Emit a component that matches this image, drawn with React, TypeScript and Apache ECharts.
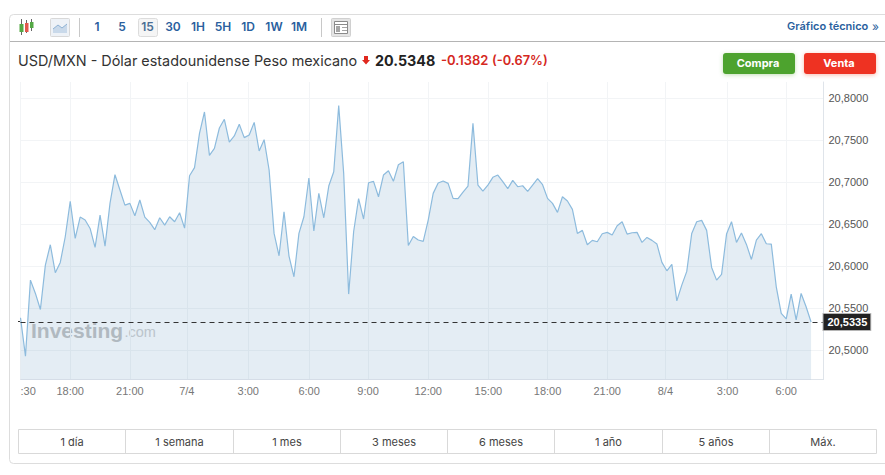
import React, { useEffect, useRef } from "react";
import * as echarts from "echarts";

const prices = [
  20.5385, 20.4929, 20.5833, 20.5675, 20.5484, 20.6012, 20.6254, 20.5921, 20.6044, 20.6349,
  20.677, 20.6329, 20.6583, 20.6548, 20.6448, 20.6222, 20.6607, 20.6238, 20.6746, 20.7087,
  20.6905, 20.6726, 20.6746, 20.6599, 20.6786, 20.6583, 20.652, 20.6433, 20.6575, 20.6488,
  20.6587, 20.6528, 20.6635, 20.6452, 20.7075, 20.7171, 20.7579, 20.7833, 20.7317, 20.7401,
  20.7643, 20.7746, 20.7476, 20.7548, 20.7687, 20.7528, 20.756, 20.771, 20.7369, 20.7504,
  20.7143, 20.6389, 20.6123, 20.6647, 20.6119, 20.5873, 20.6389, 20.6587, 20.7048, 20.6417,
  20.6865, 20.6575, 20.6952, 20.7123, 20.7909, 20.7103, 20.5667, 20.6409, 20.6802, 20.656,
  20.6992, 20.7008, 20.6825, 20.7083, 20.7135, 20.7008, 20.7206, 20.7242, 20.6246, 20.6353,
  20.631, 20.6294, 20.6548, 20.6865, 20.6988, 20.7012, 20.6984, 20.6806, 20.6802, 20.6881,
  20.6952, 20.7698, 20.6964, 20.6893, 20.6964, 20.7056, 20.7083, 20.7004, 20.6921, 20.702,
  20.6944, 20.6956, 20.6889, 20.6964, 20.704, 20.6968, 20.6806, 20.6746, 20.6639, 20.6825,
  20.6774, 20.6675, 20.6389, 20.6425, 20.6254, 20.6306, 20.629, 20.6385, 20.6401, 20.6369,
  20.648, 20.6528, 20.6381, 20.6397, 20.6401, 20.6282, 20.6341, 20.6306, 20.6262, 20.6044,
  20.5944, 20.602, 20.5587, 20.5774, 20.5937, 20.6389, 20.6528, 20.6544, 20.6425, 20.5984,
  20.5833, 20.5901, 20.6381, 20.6528, 20.6282, 20.6393, 20.6258, 20.6079, 20.631, 20.6385,
  20.6266, 20.6262, 20.5754, 20.5437, 20.5373, 20.5667, 20.5361, 20.5675, 20.5516, 20.5335,
];
const lastPrice = 20.5335;
const xTickSlots = [0, 10, 22, 33.44, 45.8, 58.05, 69.9, 82, 94.1, 106, 118, 129.7, 142.2, 154];
const xTickLabels = [":30", "18:00", "21:00", "7/4", "3:00", "6:00", "9:00", "12:00", "15:00", "18:00", "21:00", "8/4", "3:00", "6:00"];
const yTicks = [20.5, 20.55, 20.6, 20.65, 20.7, 20.75, 20.8];
const intervalButtons = ["1", "5", "15", "30", "1H", "5H", "1D", "1W", "1M"];
const rangeButtons = ["1 día", "1 semana", "1 mes", "3 meses", "6 meses", "1 año", "5 años", "Máx."];

const UI_FONT = "Inter, 'Noto Sans', sans-serif";
const AXIS_FONT = "'Liberation Sans', Arial, sans-serif";
const fmt = (v: number) => v.toFixed(4).replace(".", ",");

function App() {
  const ref = useRef<HTMLDivElement>(null);
  useEffect(() => {
    if (!ref.current) return;
    document.body.style.margin = "0";
    const chart = echarts.init(ref.current, undefined, { renderer: "svg" });

    const intervalX = [97, 122, 147.5, 173, 198, 223, 248, 274, 299];
    const rangeEdges = [18.5, 125.5, 233.5, 340.5, 447.5, 554.5, 662.5, 769.5, 876.5];
    const hline = (x1: number, x2: number, y: number, stroke: string) => ({
      type: "line", shape: { x1, y1: y, x2, y2: y }, style: { stroke, lineWidth: 1 }, silent: true,
    });
    const vline = (x: number, y1: number, y2: number, stroke: string) => ({
      type: "line", shape: { x1: x, y1, x2: x, y2 }, style: { stroke, lineWidth: 1 }, silent: true,
    });

    const elements: any[] = [
      { type: "rect", shape: { x: 9.5, y: 14.5, width: 900, height: 449, r: 4 }, style: { fill: "none", stroke: "#dddddd", lineWidth: 1 }, silent: true },
      hline(10, 885, 41.5, "#b4b4b4"),
      // candle icon
      vline(21.5, 19, 35, "#666666"),
      { type: "rect", shape: { x: 19.5, y: 24, width: 4, height: 8 }, style: { fill: "#54a845" } },
      vline(26.5, 20, 33, "#666666"),
      { type: "rect", shape: { x: 25, y: 23, width: 3.5, height: 9 }, style: { fill: "#e2574c" } },
      vline(31.5, 19, 31, "#666666"),
      { type: "rect", shape: { x: 30, y: 22, width: 3.5, height: 6 }, style: { fill: "#54a845" } },
      // line icon
      { type: "rect", shape: { x: 50.5, y: 18.5, width: 19, height: 18, r: 1 }, style: { fill: "#eef2f7", stroke: "#d8d8d8" } },
      { type: "polygon", shape: { points: [[53, 33], [53, 29], [58, 25], [62, 28], [67, 24], [67, 33]] }, style: { fill: "#c9d9ea" } },
      { type: "polyline", shape: { points: [[53, 29], [58, 25], [62, 28], [67, 24]] }, style: { stroke: "#8fb2d4", fill: "none", lineWidth: 1 } },
      vline(79.5, 18, 37, "#c8c8c8"),
      { type: "rect", shape: { x: 138.5, y: 18.5, width: 19, height: 18, r: 2 }, style: { fill: "#f5f5f5", stroke: "#dcdcdc" } },
      vline(321.5, 18, 37, "#c8c8c8"),
      // table icon
      { type: "rect", shape: { x: 331.5, y: 18.5, width: 19, height: 18, r: 1 }, style: { fill: "#e4e4e4", stroke: "#d0d0d0" } },
      { type: "rect", shape: { x: 334.5, y: 21.5, width: 13, height: 12 }, style: { fill: "#ffffff", stroke: "#8a8a8a" } },
      hline(335, 347, 24.5, "#8a8a8a"),
      { type: "rect", shape: { x: 336, y: 26, width: 4, height: 6 }, style: { fill: "#a5a5a5" } },
      hline(342, 347, 27.5, "#a5a5a5"),
      hline(342, 347, 30.5, "#a5a5a5"),
      ...intervalButtons.map((t, i) => ({
        type: "text", x: intervalX[i], y: 26,
        style: { text: t, fill: i === 2 ? "#4a6d94" : "#2a5f9e", font: `600 12px ${UI_FONT}`, align: "center", verticalAlign: "middle" },
      })),
      { type: "text", x: 787, y: 26, style: { text: "Gráfico técnico", fill: "#2a5f9e", font: `600 11px ${UI_FONT}`, verticalAlign: "middle" } },
      { type: "text", x: 872, y: 26.5, style: { text: "»", fill: "#2a5f9e", font: `400 12px ${UI_FONT}`, verticalAlign: "middle" } },
      // title row
      { type: "text", x: 18, y: 60, style: { text: "USD/MXN - Dólar estadounidense Peso mexicano", fill: "#333333", font: `400 14.4px ${UI_FONT}`, verticalAlign: "middle" } },
      { type: "polygon", shape: { points: [[364, 56], [368, 56], [368, 60], [370, 60], [366, 64.5], [362, 60], [364, 60]] }, style: { fill: "#e0281e" } },
      { type: "text", x: 375, y: 60, style: { text: "20.5348", fill: "#222222", font: `700 14.3px ${UI_FONT}`, verticalAlign: "middle" } },
      { type: "text", x: 441, y: 60, style: { text: "-0.1382", fill: "#d5281e", font: `600 13px ${UI_FONT}`, verticalAlign: "middle" } },
      { type: "text", x: 492, y: 60, style: { text: "(-0.67%)", fill: "#d5281e", font: `600 12.8px ${UI_FONT}`, verticalAlign: "middle" } },
      // buttons
      { type: "rect", shape: { x: 723, y: 53, width: 72, height: 21, r: 3 }, style: { fill: "#4ea32e", shadowBlur: 4, shadowColor: "rgba(78,163,46,0.35)", shadowOffsetY: 1 } },
      { type: "text", x: 758, y: 63, style: { text: "Compra", fill: "#ffffff", font: `700 11px ${UI_FONT}`, align: "center", verticalAlign: "middle" } },
      { type: "rect", shape: { x: 804, y: 53, width: 72, height: 21, r: 3 }, style: { fill: "#ee3224", shadowBlur: 4, shadowColor: "rgba(238,50,36,0.35)", shadowOffsetY: 1 } },
      { type: "text", x: 839, y: 63, style: { text: "Venta", fill: "#ffffff", font: `700 11px ${UI_FONT}`, align: "center", verticalAlign: "middle" } },
      // watermark, seen through the translucent area
      { type: "text", x: 31, y: 330, style: { text: "Investing", fill: "#bebebe", font: `700 21px ${AXIS_FONT}`, verticalAlign: "middle" } },
      { type: "text", x: 124.5, y: 331.5, style: { text: ".com", fill: "#cdcdcd", font: `400 14.5px ${AXIS_FONT}`, verticalAlign: "middle" } },
      // range bar
      { type: "rect", shape: { x: 18.5, y: 429.5, width: 858, height: 24 }, style: { fill: "none", stroke: "#d9d9d9", lineWidth: 1 }, silent: true },
      ...rangeEdges.slice(1, -1).map((x) => vline(x, 430, 453, "#d9d9d9")),
      ...rangeButtons.map((t, i) => ({
        type: "text", x: (rangeEdges[i] + rangeEdges[i + 1]) / 2, y: 441.5,
        style: { text: t, fill: "#444444", font: `400 11px ${UI_FONT}`, align: "center", verticalAlign: "middle" },
      })),
      hline(18, 20.5, 321.5, "#333333"),
    ];

    chart.setOption({
      animation: false,
      graphic: { elements },
      grid: { left: 20.5, right: 61.5, top: 82, bottom: 95.5, containLabel: false },
      xAxis: {
        type: "value",
        min: 0,
        max: 161.5,
        axisLine: { show: true, onZero: false, lineStyle: { color: "#dfe4ea", width: 1 } },
        axisTick: { show: false, customValues: xTickSlots },
        axisLabel: {
          customValues: xTickSlots,
          formatter: (v: number) => xTickLabels[xTickSlots.indexOf(v)] ?? "",
          color: "#777777",
          fontFamily: AXIS_FONT,
          fontSize: 11,
          margin: 6,
          alignMinLabel: "left",
          showMinLabel: true,
          showMaxLabel: true,
          hideOverlap: false,
        },
        splitLine: { show: true, lineStyle: { color: "#f2f4f6", width: 1 } },
      },
      yAxis: {
        type: "value",
        position: "right",
        min: 20.4651,
        max: 20.819,
        axisLine: { show: true, onZero: false, lineStyle: { color: "#dfe4ea", width: 1 } },
        axisTick: { show: false, customValues: yTicks },
        axisLabel: {
          customValues: yTicks,
          formatter: (v: number) => fmt(v),
          color: "#555555",
          fontFamily: AXIS_FONT,
          fontSize: 11,
          margin: 5,
        },
        splitLine: { show: true, lineStyle: { color: "#f2f4f6", width: 1 } },
      },
      series: [
        {
          type: "line",
          z: 2,
          data: prices.map((v, i) => [i, v]),
          symbol: "none",
          lineStyle: { color: "#8dbbdd", width: 1.2 },
          areaStyle: { color: "rgba(120,165,200,0.2)", opacity: 1 },
          markLine: {
            silent: true,
            symbol: "none",
            animation: false,
            precision: 4,
            lineStyle: { color: "#333333", type: [5, 4], width: 1 },
            label: {
              position: "end",
              distance: 0,
              formatter: () => fmt(lastPrice),
              color: "#ffffff",
              fontWeight: 700,
              fontFamily: AXIS_FONT,
              fontSize: 11,
              backgroundColor: "#222222",
              borderColor: "#b5b5b5",
              borderWidth: 1,
              padding: [3, 3, 2, 4],
            },
            data: [{ yAxis: lastPrice }],
          },
        },
      ],
    });
    return () => chart.dispose();
  }, []);
  return <div ref={ref} style={{ width: 885, height: 475, position: "absolute", left: 0, top: 0 }} />;
}

export default App;
